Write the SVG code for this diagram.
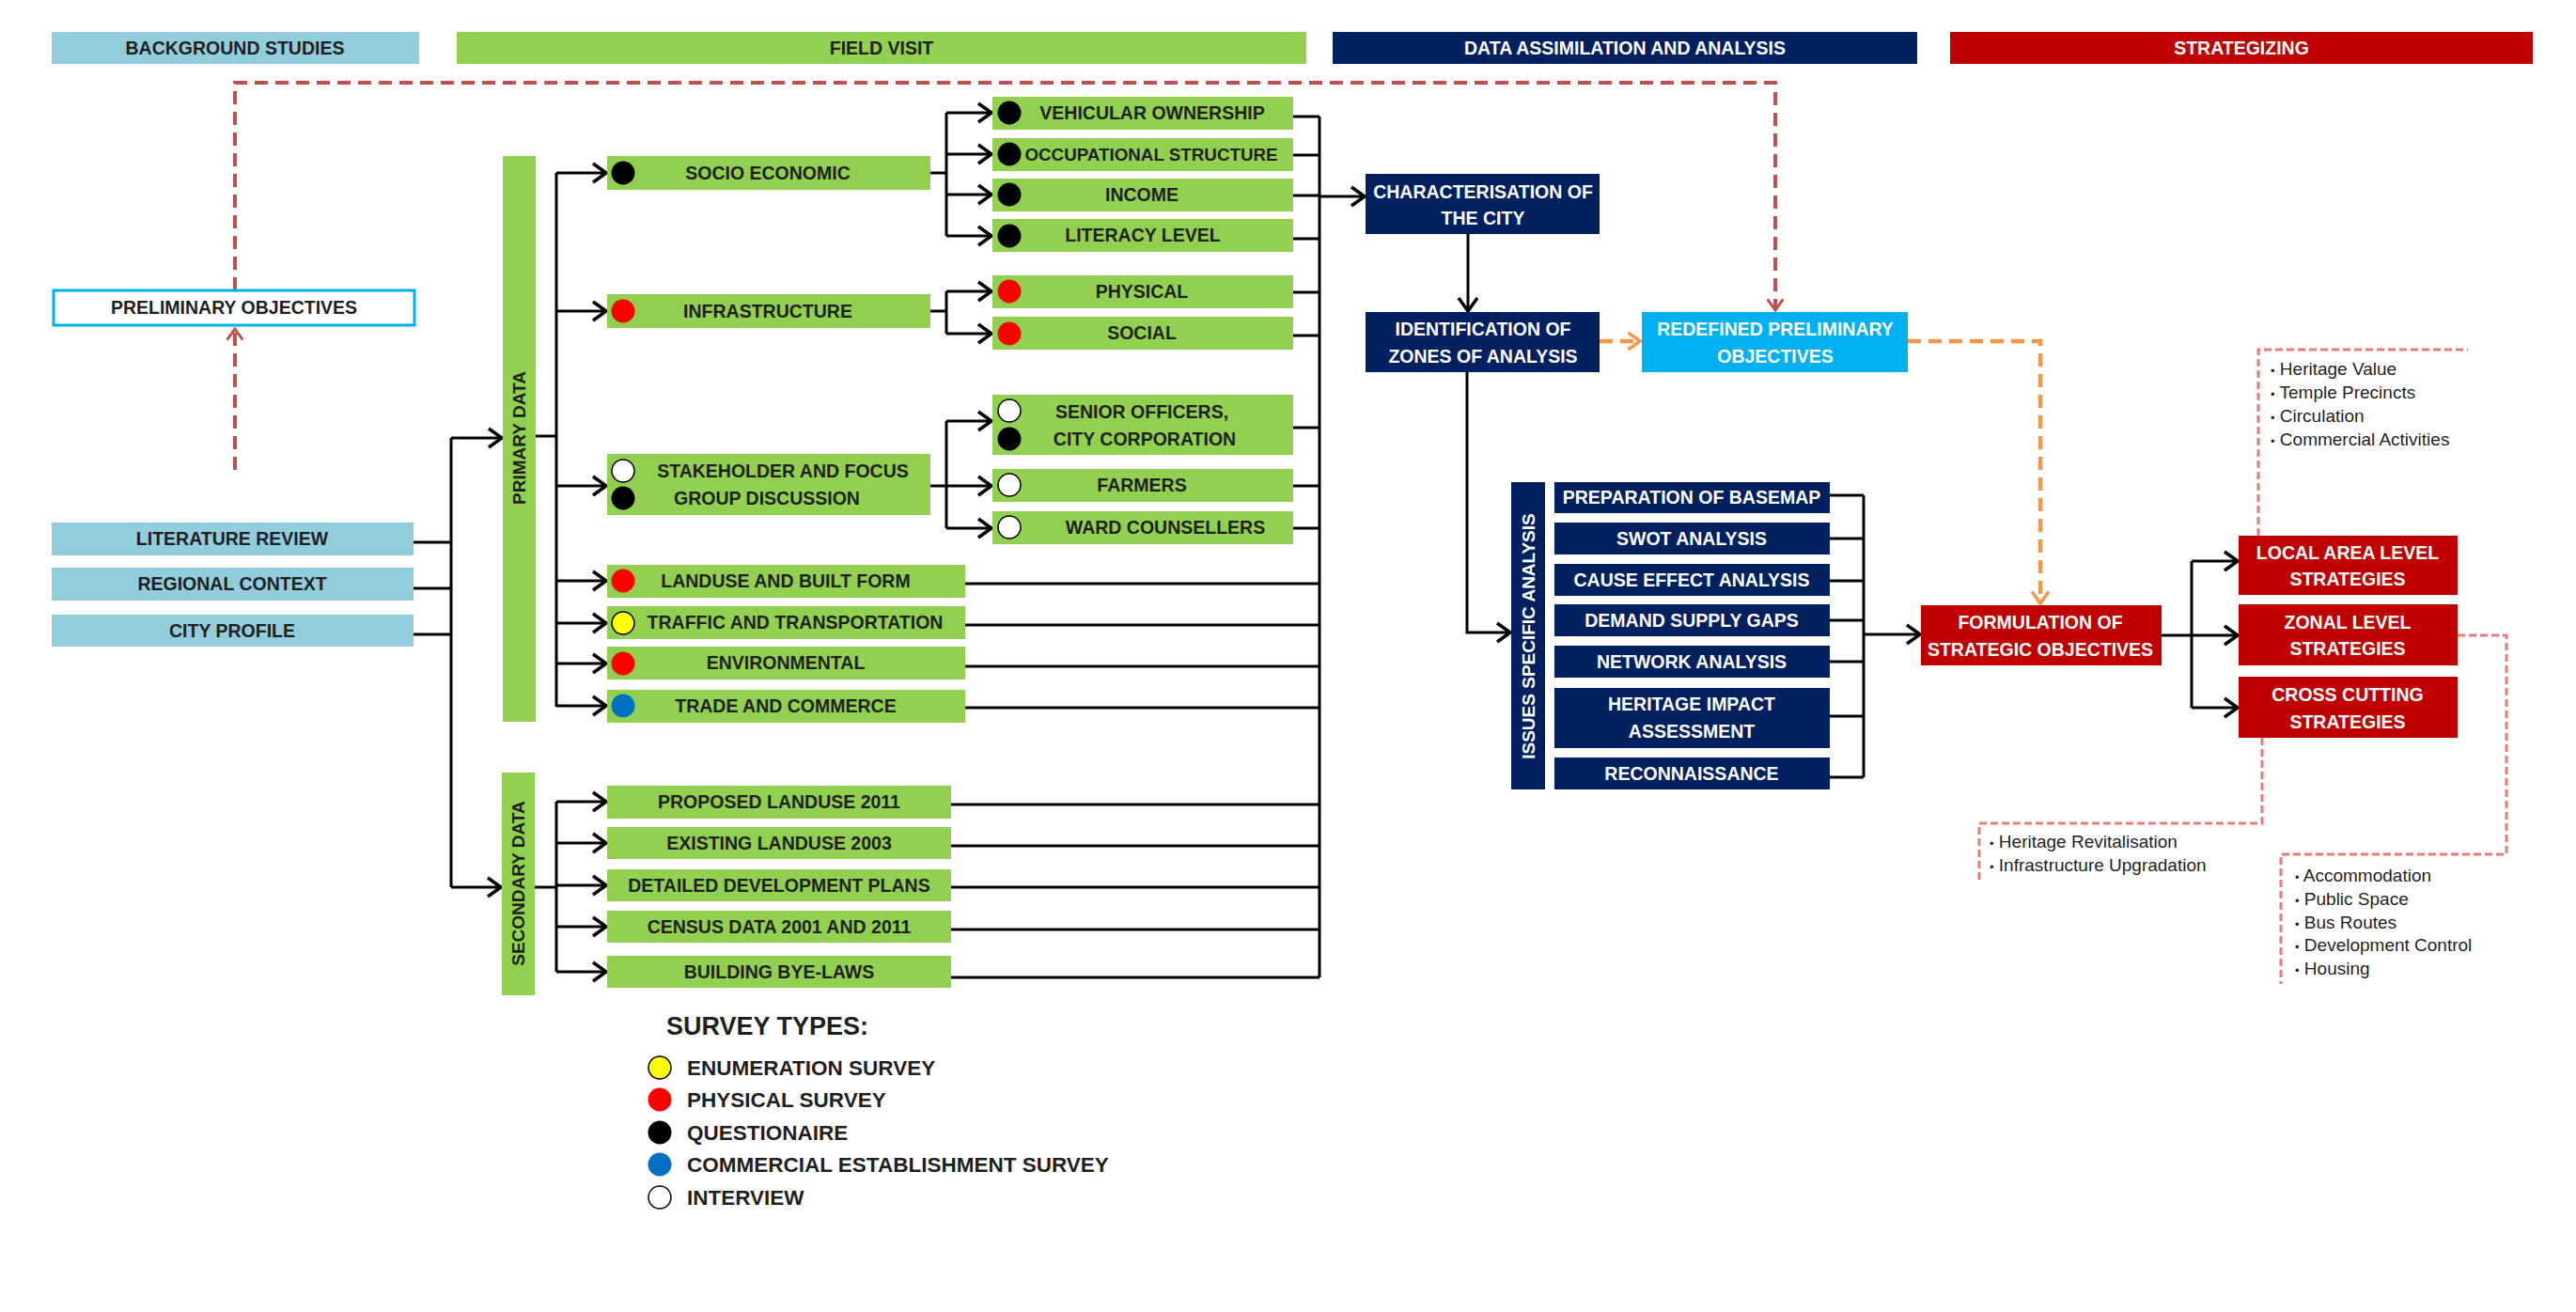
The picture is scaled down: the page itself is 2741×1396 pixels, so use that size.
<svg xmlns="http://www.w3.org/2000/svg" width="2741" height="1396" viewBox="0 0 2741 1396">
<defs>
<style>
text{font-family:"Liberation Sans",Arial,sans-serif;font-weight:bold;font-size:19.5px;text-anchor:middle}
.hdr{font-size:19.5px}
.dk{fill:#1f1f1f}
.wt{fill:#ffffff}
.g{fill:#92D050}
.lb{fill:#92CDDC}
.nv{fill:#002060}
.rd{fill:#C00000}
.sk{fill:#00B0F0}
.ln{fill:none;stroke:#000;stroke-width:3}
.ar{fill:none;stroke:#000;stroke-width:3;marker-end:url(#ah)}
.rdash{fill:none;stroke:#C0504D;stroke-width:4;stroke-dasharray:14 8}
.odash{fill:none;stroke:#F79646;stroke-width:4.5;stroke-dasharray:14 8}
.pdash{fill:none;stroke:#E57C7A;stroke-width:3;stroke-dasharray:8 4}
.bul{font-weight:normal;font-size:19px;text-anchor:start;fill:#1f1f1f}
.leg{font-size:22.5px;text-anchor:start;fill:#1f1f1f}
</style>
<marker id="ah" viewBox="0 0 18 24" refX="16" refY="12" markerWidth="18" markerHeight="24" markerUnits="userSpaceOnUse" orient="auto">
<path d="M2,2 L16,12 L2,22" fill="none" stroke="#000" stroke-width="3.5"/>
</marker>
<marker id="ahr" viewBox="0 0 18 24" refX="16" refY="12" markerWidth="16" markerHeight="20" markerUnits="userSpaceOnUse" orient="auto">
<path d="M2,2 L16,12 L2,22" fill="none" stroke="#C0504D" stroke-width="3.5"/>
</marker>
<marker id="aho" viewBox="0 0 18 24" refX="16" refY="12" markerWidth="16" markerHeight="22" markerUnits="userSpaceOnUse" orient="auto">
<path d="M2,2 L16,12 L2,22" fill="none" stroke="#F79646" stroke-width="4"/>
</marker>
</defs>
<rect width="2741" height="1396" fill="#ffffff"/>

<!-- phase headers -->
<g id="hdr-background"><rect x="55" y="34" width="391" height="34" class="lb"/><text x="250" y="58" class="dk">BACKGROUND STUDIES</text></g>
<g id="hdr-field"><rect x="486" y="34" width="904" height="34" class="g"/><text x="938" y="58" class="dk">FIELD VISIT</text></g>
<g id="hdr-data"><rect x="1418" y="34" width="622" height="34" class="nv"/><text x="1729" y="58" class="wt">DATA ASSIMILATION AND ANALYSIS</text></g>
<g id="hdr-strategizing"><rect x="2075" y="34" width="620" height="34" class="rd"/><text x="2385" y="58" class="wt">STRATEGIZING</text></g>

<!-- connectors -->
<g id="connectors">
<!-- red dashed feedback -->
<path class="rdash" d="M250,500 L250,350" marker-end="url(#ahr)"/>
<path class="rdash" d="M250,309 L250,88 L1889,88 L1889,330" marker-end="url(#ahr)"/>
<!-- background to data -->
<path class="ln" d="M440,577 H480 M440,626 H480 M440,675 H480 M480,466 V944"/>
<path class="ar" d="M480,466 H534"/>
<path class="ar" d="M480,944 H533"/>
<!-- primary branch -->
<path class="ln" d="M570,464 H592 M592,184 V752"/>
<path class="ar" d="M592,184 H645"/>
<path class="ar" d="M592,331 H645"/>
<path class="ar" d="M592,517 H645"/>
<path class="ar" d="M592,618 H645"/>
<path class="ar" d="M592,663 H645"/>
<path class="ar" d="M592,706 H645"/>
<path class="ar" d="M592,751 H645"/>
<!-- secondary branch -->
<path class="ln" d="M569,944 H592 M592,853 V1034"/>
<path class="ar" d="M592,853 H645"/>
<path class="ar" d="M592,897 H645"/>
<path class="ar" d="M592,942 H645"/>
<path class="ar" d="M592,986 H645"/>
<path class="ar" d="M592,1034 H645"/>
<!-- socio economic sub branch -->
<path class="ln" d="M990,184 H1007 M1007,120 V251"/>
<path class="ar" d="M1007,120 H1055"/>
<path class="ar" d="M1007,164 H1055"/>
<path class="ar" d="M1007,207 H1055"/>
<path class="ar" d="M1007,251 H1055"/>
<!-- infrastructure sub branch -->
<path class="ln" d="M990,331 H1007 M1007,310 V355"/>
<path class="ar" d="M1007,310 H1055"/>
<path class="ar" d="M1007,355 H1055"/>
<!-- stakeholder sub branch -->
<path class="ln" d="M990,517 H1007 M1007,448 V562"/>
<path class="ar" d="M1007,448 H1055"/>
<path class="ar" d="M1007,517 H1055"/>
<path class="ar" d="M1007,562 H1055"/>
<!-- right collector -->
<path class="ln" d="M1376,124 H1404 M1376,165 H1404 M1376,208 H1404 M1376,254 H1404 M1376,311 H1404 M1376,357 H1404 M1376,455 H1404 M1376,517 H1404 M1376,562 H1404 M1027,621 H1404 M1027,665 H1404 M1027,709 H1404 M1027,753 H1404 M1012,856 H1404 M1012,900 H1404 M1012,944 H1404 M1012,989 H1404 M1012,1040 H1404 M1404,124 V1040"/>
<path class="ar" d="M1404,209 H1452"/>
<!-- data assimilation -->
<path class="ar" d="M1562,249 V331"/>
<path class="ar" d="M1561,396 V673 H1607"/>
<path class="odash" d="M1702,363 H1745" marker-end="url(#aho)"/>
<path class="odash" d="M2030,363 H2171 V642" marker-end="url(#aho)"/>
<path class="ln" d="M1947,527 H1983 M1947,573 H1983 M1947,618 H1983 M1947,660 H1983 M1947,704 H1983 M1947,762 H1983 M1947,827 H1983 M1983,527 V827"/>
<path class="ar" d="M1983,675 H2043"/>
<!-- strategies -->
<path class="ln" d="M2300,676 H2332 M2332,597 V753"/>
<path class="ar" d="M2332,597 H2381"/>
<path class="ar" d="M2332,676 H2381"/>
<path class="ar" d="M2332,753 H2381"/>
<!-- note brackets -->
<path class="pdash" d="M2403,570 V372 H2626"/>
<path class="pdash" d="M2407,785 V876 H2106 V940"/>
<path class="pdash" d="M2615,676 H2667 V909 H2427 V1047"/>
</g>

<!-- background studies -->
<g id="preliminary-objectives"><rect x="57" y="309" width="384" height="37" fill="#fff" stroke="#00B0F0" stroke-width="3"/><text x="249" y="334" class="dk">PRELIMINARY OBJECTIVES</text></g>
<g id="literature-review"><rect x="55" y="556" width="385" height="35" class="lb"/><text x="247" y="580" class="dk">LITERATURE REVIEW</text></g>
<g id="regional-context"><rect x="55" y="604" width="385" height="35" class="lb"/><text x="247" y="628" class="dk">REGIONAL CONTEXT</text></g>
<g id="city-profile"><rect x="55" y="654" width="385" height="34" class="lb"/><text x="247" y="678" class="dk">CITY PROFILE</text></g>

<!-- primary / secondary bars -->
<g id="primary-data"><rect x="535" y="166" width="35" height="602" class="g"/><text transform="translate(559,466) rotate(-90)" class="dk" style="font-size:19px">PRIMARY DATA</text></g>
<g id="secondary-data"><rect x="534" y="822" width="35" height="237" class="g"/><text transform="translate(558,940) rotate(-90)" class="dk" style="font-size:19px">SECONDARY DATA</text></g>

<!-- primary items -->
<g id="socio-economic"><rect x="646" y="166" width="344" height="36" class="g"/><circle cx="663" cy="184" r="12.5" fill="#000"/><text x="817" y="191" class="dk">SOCIO ECONOMIC</text></g>
<g id="infrastructure"><rect x="646" y="313" width="344" height="36" class="g"/><circle cx="663" cy="331" r="12.5" fill="#FF0000"/><text x="817" y="338" class="dk">INFRASTRUCTURE</text></g>
<g id="stakeholder"><rect x="646" y="483" width="344" height="65" class="g"/><circle cx="663" cy="501" r="12" fill="#fff" stroke="#000" stroke-width="1.5"/><circle cx="663" cy="530" r="12.5" fill="#000"/><text x="833" y="508" class="dk">STAKEHOLDER AND FOCUS</text><text x="816" y="537" class="dk">GROUP DISCUSSION</text></g>
<g id="landuse"><rect x="646" y="601" width="381" height="35" class="g"/><circle cx="663" cy="618" r="12.5" fill="#FF0000"/><text x="836" y="625" class="dk">LANDUSE AND BUILT FORM</text></g>
<g id="traffic"><rect x="646" y="645" width="381" height="35" class="g"/><circle cx="663" cy="663" r="12" fill="#FFFF00" stroke="#000" stroke-width="1.5"/><text x="846" y="669" class="dk">TRAFFIC AND TRANSPORTATION</text></g>
<g id="environmental"><rect x="646" y="688" width="381" height="35" class="g"/><circle cx="663" cy="706" r="12.5" fill="#FF0000"/><text x="836" y="712" class="dk">ENVIRONMENTAL</text></g>
<g id="trade"><rect x="646" y="734" width="381" height="35" class="g"/><circle cx="663" cy="751" r="12.5" fill="#0070C0"/><text x="836" y="758" class="dk">TRADE AND COMMERCE</text></g>

<!-- secondary items -->
<g id="proposed-landuse"><rect x="646" y="836" width="366" height="35" class="g"/><text x="829" y="860" class="dk">PROPOSED LANDUSE 2011</text></g>
<g id="existing-landuse"><rect x="646" y="880" width="366" height="34" class="g"/><text x="829" y="904" class="dk">EXISTING LANDUSE 2003</text></g>
<g id="detailed-plans"><rect x="646" y="925" width="366" height="34" class="g"/><text x="829" y="949" class="dk">DETAILED DEVELOPMENT PLANS</text></g>
<g id="census"><rect x="646" y="969" width="366" height="34" class="g"/><text x="829" y="993" class="dk">CENSUS DATA 2001 AND 2011</text></g>
<g id="bye-laws"><rect x="646" y="1017" width="366" height="34" class="g"/><text x="829" y="1041" class="dk">BUILDING BYE-LAWS</text></g>

<!-- sub items -->
<g id="vehicular"><rect x="1056" y="103" width="320" height="35" class="g"/><circle cx="1074" cy="120" r="12.5" fill="#000"/><text x="1226" y="127" class="dk">VEHICULAR OWNERSHIP</text></g>
<g id="occupational"><rect x="1056" y="147" width="320" height="35" class="g"/><circle cx="1074" cy="164" r="12.5" fill="#000"/><text x="1225" y="171" class="dk" style="font-size:18.8px">OCCUPATIONAL STRUCTURE</text></g>
<g id="income"><rect x="1056" y="190" width="320" height="35" class="g"/><circle cx="1074" cy="207" r="12.5" fill="#000"/><text x="1215" y="214" class="dk">INCOME</text></g>
<g id="literacy"><rect x="1056" y="233" width="320" height="35" class="g"/><circle cx="1074" cy="251" r="12.5" fill="#000"/><text x="1216" y="257" class="dk">LITERACY LEVEL</text></g>
<g id="physical"><rect x="1056" y="293" width="320" height="35" class="g"/><circle cx="1074" cy="310" r="12.5" fill="#FF0000"/><text x="1215" y="317" class="dk">PHYSICAL</text></g>
<g id="social"><rect x="1056" y="337" width="320" height="35" class="g"/><circle cx="1074" cy="355" r="12.5" fill="#FF0000"/><text x="1215" y="361" class="dk">SOCIAL</text></g>
<g id="senior-officers"><rect x="1056" y="420" width="320" height="64" class="g"/><circle cx="1074" cy="437" r="12" fill="#fff" stroke="#000" stroke-width="1.5"/><circle cx="1074" cy="467" r="12.5" fill="#000"/><text x="1215" y="445" class="dk">SENIOR OFFICERS,</text><text x="1218" y="474" class="dk">CITY CORPORATION</text></g>
<g id="farmers"><rect x="1056" y="499" width="320" height="35" class="g"/><circle cx="1074" cy="516" r="12" fill="#fff" stroke="#000" stroke-width="1.5"/><text x="1215" y="523" class="dk">FARMERS</text></g>
<g id="ward-counsellers"><rect x="1056" y="544" width="320" height="35" class="g"/><circle cx="1074" cy="561" r="12" fill="#fff" stroke="#000" stroke-width="1.5"/><text x="1240" y="568" class="dk">WARD COUNSELLERS</text></g>

<!-- data assimilation -->
<g id="characterisation"><rect x="1453" y="185" width="249" height="64" class="nv"/><text x="1578" y="211" class="wt">CHARACTERISATION OF</text><text x="1578" y="239" class="wt">THE CITY</text></g>
<g id="identification"><rect x="1453" y="332" width="249" height="64" class="nv"/><text x="1578" y="357" class="wt">IDENTIFICATION OF</text><text x="1578" y="386" class="wt">ZONES OF ANALYSIS</text></g>
<g id="redefined"><rect x="1747" y="332" width="283" height="64" class="sk"/><text x="1889" y="357" class="wt">REDEFINED PRELIMINARY</text><text x="1889" y="386" class="wt">OBJECTIVES</text></g>
<g id="issues-specific"><rect x="1608" y="513" width="36" height="327" class="nv"/><text transform="translate(1633,677) rotate(-90)" class="wt" style="font-size:19px">ISSUES SPECIFIC ANALYSIS</text></g>
<g id="basemap"><rect x="1654" y="513" width="293" height="33" class="nv"/><text x="1800" y="536" class="wt">PREPARATION OF BASEMAP</text></g>
<g id="swot"><rect x="1654" y="556" width="293" height="34" class="nv"/><text x="1800" y="580" class="wt">SWOT ANALYSIS</text></g>
<g id="cause-effect"><rect x="1654" y="600" width="293" height="34" class="nv"/><text x="1800" y="624" class="wt">CAUSE EFFECT ANALYSIS</text></g>
<g id="demand-supply"><rect x="1654" y="643" width="293" height="34" class="nv"/><text x="1800" y="667" class="wt">DEMAND SUPPLY GAPS</text></g>
<g id="network"><rect x="1654" y="687" width="293" height="34" class="nv"/><text x="1800" y="711" class="wt">NETWORK ANALYSIS</text></g>
<g id="heritage-impact"><rect x="1654" y="732" width="293" height="64" class="nv"/><text x="1800" y="756" class="wt">HERITAGE IMPACT</text><text x="1800" y="785" class="wt">ASSESSMENT</text></g>
<g id="reconnaissance"><rect x="1654" y="806" width="293" height="34" class="nv"/><text x="1800" y="830" class="wt">RECONNAISSANCE</text></g>

<!-- strategizing -->
<g id="formulation"><rect x="2044" y="644" width="256" height="64" class="rd"/><text x="2171" y="669" class="wt">FORMULATION OF</text><text x="2171" y="698" class="wt">STRATEGIC OBJECTIVES</text></g>
<g id="local-area"><rect x="2382" y="570" width="233" height="63" class="rd"/><text x="2498" y="595" class="wt">LOCAL AREA LEVEL</text><text x="2498" y="623" class="wt">STRATEGIES</text></g>
<g id="zonal"><rect x="2382" y="643" width="233" height="65" class="rd"/><text x="2498" y="669" class="wt">ZONAL LEVEL</text><text x="2498" y="697" class="wt">STRATEGIES</text></g>
<g id="cross-cutting"><rect x="2382" y="720" width="233" height="65" class="rd"/><text x="2498" y="746" class="wt">CROSS CUTTING</text><text x="2498" y="775" class="wt">STRATEGIES</text></g>

<!-- notes -->
<g id="note-local">
<text class="bul" x="2416" y="399"><tspan font-size="13">•</tspan> Heritage Value</text>
<text class="bul" x="2416" y="424"><tspan font-size="13">•</tspan> Temple Precincts</text>
<text class="bul" x="2416" y="449"><tspan font-size="13">•</tspan> Circulation</text>
<text class="bul" x="2416" y="474"><tspan font-size="13">•</tspan> Commercial Activities</text>
</g>
<g id="note-cross">
<text class="bul" x="2117" y="902"><tspan font-size="13">•</tspan> Heritage Revitalisation</text>
<text class="bul" x="2117" y="927"><tspan font-size="13">•</tspan> Infrastructure Upgradation</text>
</g>
<g id="note-zonal">
<text class="bul" x="2442" y="938"><tspan font-size="13">•</tspan> Accommodation</text>
<text class="bul" x="2442" y="963"><tspan font-size="13">•</tspan> Public Space</text>
<text class="bul" x="2442" y="988"><tspan font-size="13">•</tspan> Bus Routes</text>
<text class="bul" x="2442" y="1012"><tspan font-size="13">•</tspan> Development Control</text>
<text class="bul" x="2442" y="1037"><tspan font-size="13">•</tspan> Housing</text>
</g>

<!-- legend -->
<g id="legend">
<text x="709" y="1101" style="font-size:27px;text-anchor:start" class="dk">SURVEY TYPES:</text>
<circle cx="702" cy="1136" r="12" fill="#FFFF00" stroke="#000" stroke-width="1.5"/>
<text class="leg" x="731" y="1144">ENUMERATION SURVEY</text>
<circle cx="702" cy="1170" r="12.5" fill="#FF0000"/>
<text class="leg" x="731" y="1178">PHYSICAL SURVEY</text>
<circle cx="702" cy="1205" r="12.5" fill="#000"/>
<text class="leg" x="731" y="1213">QUESTIONAIRE</text>
<circle cx="702" cy="1239" r="12.5" fill="#0070C0"/>
<text class="leg" x="731" y="1247">COMMERCIAL ESTABLISHMENT SURVEY</text>
<circle cx="702" cy="1274" r="12" fill="#fff" stroke="#000" stroke-width="1.5"/>
<text class="leg" x="731" y="1282">INTERVIEW</text>
</g>
</svg>
